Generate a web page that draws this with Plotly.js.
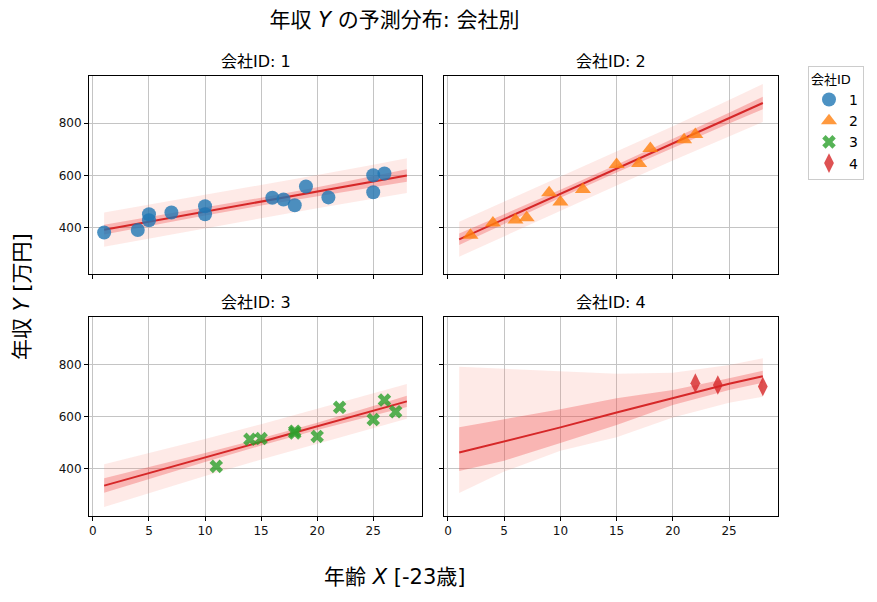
<!DOCTYPE html>
<html>
<head>
<meta charset="utf-8">
<script src="https://cdn.plot.ly/plotly-3.0.1.min.js"></script>
<style>
  html, body { margin: 0; padding: 0; background: #fff; }
  #chart { width: 877px; height: 602px; }
</style>
</head>
<body>
<div id="chart"></div>
<script>
// x positions where the fitted line and bands were read
const gridX = [1, 5, 10, 15, 20, 25, 28];

// company 1
const mean1 = [391, 422, 460, 499, 537, 576, 599];
const inLo1 = [372, 405, 445, 484, 520, 555, 575];
const inHi1 = [410, 439, 475, 514, 554, 597, 623];
const outLo1 = [325, 357, 396, 435, 473, 511, 532];
const outHi1 = [457, 487, 524, 563, 601, 641, 666];
// company 2
const mean2 = [354, 432, 529, 626, 723, 820, 878];
const inLo2 = [332, 414, 514, 611, 706, 799, 854];
const inHi2 = [376, 450, 544, 641, 740, 841, 902];
const outLo2 = [287, 366, 464, 561, 657, 750, 805];
const outHi2 = [421, 498, 594, 691, 789, 890, 951];
// company 3
const mean3 = [336, 384, 444, 504, 564, 624, 660];
const inLo3 = [308, 361, 427, 490, 550, 606, 638];
const inHi3 = [364, 407, 461, 518, 578, 642, 682];
const outLo3 = [254, 307, 373, 436, 497, 557, 593];
const outHi3 = [418, 461, 515, 572, 631, 691, 727];
// company 4
const mean4 = [463, 506, 560, 617, 673, 728, 757];
const inLo4 = [392, 432, 500, 569, 646, 704, 732];
const inHi4 = [560, 590, 630, 672, 704, 749, 778];
const outLo4 = [307, 390, 470, 522, 598, 655, 678];
const outHi4 = [793, 785, 774, 766, 770, 800, 826];

// observed points
const c1X = [1, 4, 5, 5, 7, 10, 10, 16, 17, 18, 19, 21, 25, 25, 26];
const c1Y = [380, 390, 450, 427, 457, 481, 450, 514, 507, 485, 557, 515, 600, 535, 607];
const c2X = [2, 4, 6, 7, 9, 10, 12, 15, 17, 18, 21, 22];
const c2Y = [370, 417, 428, 437, 533, 497, 545, 642, 645, 703, 737, 757];
const c3X = [11, 14, 15, 18, 18, 20, 22, 25, 26, 27];
const c3Y = [410, 514, 517, 538, 545, 525, 637, 590, 665, 620];
const c4X = [22, 24, 28];
const c4Y = [730, 723, 717];

const companyNames = ["1", "2", "3", "4"];
const panelTitles = ["会社ID: 1", "会社ID: 2", "会社ID: 3", "会社ID: 4"];
const yTicks = [400, 600, 800];
const xTicks = [0, 5, 10, 15, 20, 25];

const FONT = '"DejaVu Sans", "Noto Sans CJK JP", sans-serif';
const markerColors = ["#1f77b4", "#ff7f0e", "#2ca02c", "#d62728"];
const markerSymbols = ["circle", "triangle-up", "x", "diamond-tall"];
const markerSizes = [14, 14, 12, 14];

const bands = [
    { mean: mean1, inLo: inLo1, inHi: inHi1, outLo: outLo1, outHi: outHi1, px: c1X, py: c1Y },
    { mean: mean2, inLo: inLo2, inHi: inHi2, outLo: outLo2, outHi: outHi2, px: c2X, py: c2Y },
    { mean: mean3, inLo: inLo3, inHi: inHi3, outLo: outLo3, outHi: outHi3, px: c3X, py: c3Y },
    { mean: mean4, inLo: inLo4, inHi: inHi4, outLo: outLo4, outHi: outHi4, px: c4X, py: c4Y },
];

let traces = [];
bands.forEach((b, i) => {
    const xa = "x" + (i + 1);
    const ya = "y" + (i + 1);
    const common = { xaxis: xa, yaxis: ya, mode: "lines", line: { width: 0 }, showlegend: false, hoverinfo: "skip" };
    // outer band, then inner band on top
    traces.push(Object.assign({ x: gridX, y: b.outLo }, common));
    traces.push(Object.assign({ x: gridX, y: b.outHi, fill: "tonexty", fillcolor: "rgba(250,128,114,0.17)" }, common));
    traces.push(Object.assign({ x: gridX, y: b.inLo }, common));
    traces.push(Object.assign({ x: gridX, y: b.inHi, fill: "tonexty", fillcolor: "rgba(240,60,60,0.3)" }, common));
    traces.push({
        x: gridX, y: b.mean, xaxis: xa, yaxis: ya, mode: "lines",
        line: { color: "#d62728", width: 2 }, showlegend: false
    });
});
bands.forEach((b, i) => {
    traces.push({
        x: b.px, y: b.py, xaxis: "x" + (i + 1), yaxis: "y" + (i + 1),
        mode: "markers", type: "scatter", name: companyNames[i],
        marker: { color: markerColors[i], symbol: markerSymbols[i], size: markerSizes[i], opacity: 0.8, line: { width: 0 } }
    });
});

const xDom = [[89 / 877, 422 / 877], [444 / 877, 778 / 877]];
const yDom = [[1 - 274.4 / 602, 1 - 75.7 / 602], [1 - 516 / 602, 1 - 317.4 / 602]];

function axisBase() {
    return {
        showline: true, mirror: true, linecolor: "#000", linewidth: 1,
        ticks: "outside", ticklen: 4, tickcolor: "#000", tickwidth: 1,
        showgrid: true, gridcolor: "#c4c4c4", gridwidth: 1, zeroline: false,
        tickfont: { family: FONT, size: 12, color: "#111" }
    };
}

const layout = {
    width: 877, height: 602,
    margin: { l: 0, r: 0, t: 0, b: 0 },
    paper_bgcolor: "#fff", plot_bgcolor: "#fff",
    font: { family: FONT, color: "#000" },
    title: {
        text: "年収 <i>Y</i> の予測分布: 会社別",
        x: 394.5 / 877, xanchor: "center", y: 1 - 20 / 602, yanchor: "middle",
        font: { family: FONT, size: 21, color: "#000" }
    },
    legend: {
        x: 808 / 877, xanchor: "left", y: 1 - 66 / 602, yanchor: "top",
        traceorder: "normal",
        bordercolor: "#cccccc", borderwidth: 1, bgcolor: "#fff",
        font: { family: FONT, size: 14, color: "#000" },
        title: { text: "会社ID", font: { family: FONT, size: 13 } }
    },
    annotations: [],
    showlegend: true
};

for (let i = 0; i < 4; i++) {
    const col = i % 2, row = Math.floor(i / 2);
    const xa = axisBase();
    xa.domain = xDom[col];
    xa.anchor = "y" + (i + 1);
    xa.range = [-0.35, 29.35];
    xa.tickvals = xTicks;
    xa.showticklabels = row === 1;
    const ya = axisBase();
    ya.domain = yDom[row];
    ya.anchor = "x" + (i + 1);
    ya.range = [219, 983];
    ya.tickvals = yTicks;
    ya.showticklabels = col === 0;
    layout["xaxis" + (i + 1)] = xa;
    layout["yaxis" + (i + 1)] = ya;
    layout.annotations.push({
        text: panelTitles[i], xref: "paper", yref: "paper",
        x: (xDom[col][0] + xDom[col][1]) / 2, y: yDom[row][1],
        xanchor: "center", yanchor: "bottom", yshift: 3, showarrow: false,
        font: { family: FONT, size: 16, color: "#000" }
    });
}

layout.annotations.push({
    text: "年齢 <i>X</i> [-23歳]", xref: "paper", yref: "paper",
    x: 394.5 / 877, y: 1 - 577 / 602, xanchor: "center", yanchor: "middle",
    showarrow: false, font: { family: FONT, size: 21, color: "#000" }
});
layout.annotations.push({
    text: "年収 <i>Y</i> [万円]", xref: "paper", yref: "paper",
    x: 22 / 877, y: 1 - 297 / 602, xanchor: "center", yanchor: "middle",
    textangle: -90, showarrow: false, font: { family: FONT, size: 21, color: "#000" }
});

Plotly.newPlot("chart", traces, layout, { displayModeBar: false, staticPlot: true });
</script>
</body>
</html>
